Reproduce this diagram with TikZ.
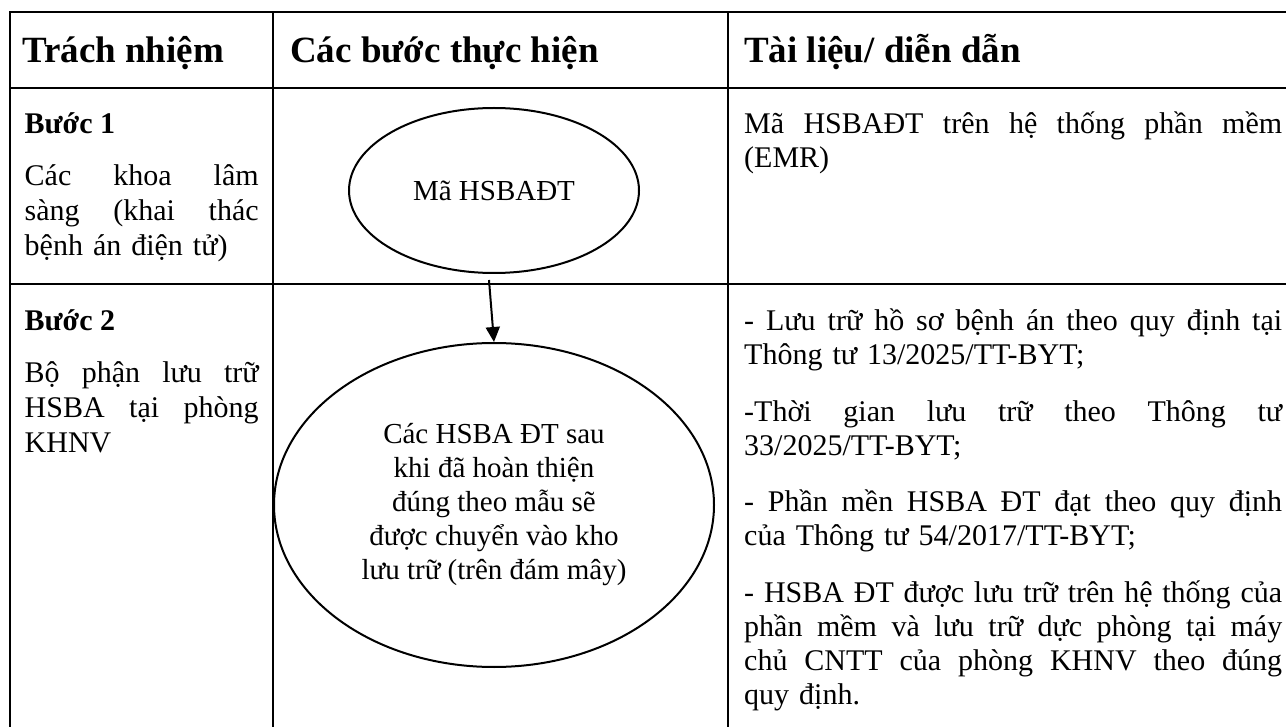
\documentclass[tikz,border=0pt]{standalone}
\usepackage{fontspec}
\setmainfont{Liberation Serif}
\usetikzlibrary{shapes.geometric,arrows.meta}
\newcommand{\jline}[2]{\leavevmode\hbox to #1{\spaceskip=0.25em plus 1fil minus 0.05em\relax #2}}
\newcommand{\ja}[1]{\jline{234pt}{#1}}
\newcommand{\jb}[1]{\jline{538pt}{#1}}
\tikzset{
  grid/.style={line width=2.2pt, line cap=rect},
  hdr/.style={anchor=base west, inner sep=0pt, font=\fontsize{37}{42}\selectfont\bfseries},
  body/.style={anchor=base west, inner sep=0pt, align=left, font=\fontsize{30}{34.5}\selectfont},
  step title/.style={body, font=\fontsize{30}{34.5}\selectfont\bfseries},
  colone/.style={body, text width=234pt, font=\fontsize{30}{35}\selectfont},
  colthree/.style={body, text width=538pt, font=\fontsize{30}{34}\selectfont},
  oval/.style={ellipse, draw, line width=2pt, inner sep=0pt, align=center, font=\fontsize{29}{34}\selectfont},
  flow/.style={-{Triangle[length=15pt,width=14pt]}, line width=2pt}
}
\begin{document}
\begin{tikzpicture}[x=1pt,y=-1pt]
\useasboundingbox (0,0) rectangle (1286,727);
% table rules
\draw[grid] (10,12) -- (1286,12);
\draw[grid] (10,88) -- (1286,88);
\draw[grid] (10,284) -- (1286,284);
\draw[grid] (10,12) -- (10,727);
\draw[grid] (273,12) -- (273,727);
\draw[grid] (728,12) -- (728,727);
% headers
\node[hdr] (h1) at (22,63) {Trách nhiệm};
\node[hdr] (h2) at (290,63) {Các bước thực hiện};
\node[hdr] (h3) at (744,63) {Tài liệu/ diễn dẫn};
% column 1
\node[step title] (s1) at (24.5,134) {Bước 1};
\node[colone] (r1) at (24.5,186) {\ja{Các khoa lâm}\\\ja{sàng (khai thác}\\bệnh án điện tử)};
\node[step title] (s2) at (24.5,331) {Bước 2};
\node[colone] (r2) at (24.5,383) {\ja{Bộ phận lưu trữ}\\\ja{HSBA tại phòng}\\KHNV};
% column 3
\node[colthree] (d1) at (744,134) {\jb{Mã HSBAĐT trên hệ thống phần mềm}\\(EMR)};
\node[colthree] (d2) at (744,331) {\jb{- Lưu trữ hồ sơ bệnh án theo quy định tại}\\Thông tư 13/2025/TT-BYT;};
\node[colthree] (d3) at (744,421) {\jb{-Thời gian lưu trữ theo Thông tư}\\33/2025/TT-BYT;};
\node[colthree] (d4) at (744,511) {\jb{- Phần mền HSBA ĐT đạt theo quy định}\\của Thông tư 54/2017/TT-BYT;};
\node[colthree] (d5) at (744,602) {\jb{- HSBA ĐT được lưu trữ trên hệ thống của}\\\jb{phần mềm và lưu trữ dực phòng tại máy}\\\jb{chủ CNTT của phòng KHNV theo đúng}\\quy định.};
% flow
\node[oval, minimum width=290pt, minimum height=165pt] (e1) at (494,190.5) {Mã HSBAĐT};
\node[oval, minimum width=440pt, minimum height=324pt] (e2) at (494,505) {Các HSBA ĐT sau\\khi đã hoàn thiện\\đúng theo mẫu sẽ\\được chuyển vào kho\\lưu trữ (trên đám mây)};
\coordinate (a1) at (489,280);
\draw[flow] (a1) -- (e2.north);
\end{tikzpicture}
\end{document}
